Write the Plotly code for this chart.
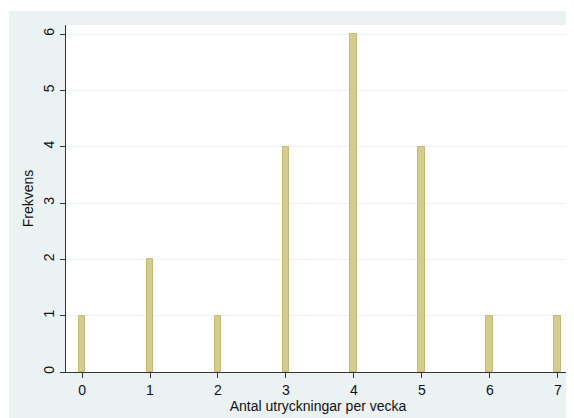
import plotly.graph_objects as go

# Data
categories = [0, 1, 2, 3, 4, 5, 6, 7]
frequencies = [1, 2, 1, 4, 6, 4, 1, 1]
x_title = "Antal utryckningar per vecka"
y_title = "Frekvens"
y_ticks = [0, 1, 2, 3, 4, 5, 6]

# page body has an 8px margin, so the figure sits at (8, 8)
W, H = 566, 410
L, R, T, B = 58, 4, 17, 46
pw = W - L - R
ph = H - T - B

def px_x(p):
    return (p - L) / pw

def px_y(p):
    return (H - B - p) / ph

BG = "#EAF2F3"

fig = go.Figure()
fig.add_trace(go.Bar(
    x=categories,
    y=frequencies,
    width=0.1,
    marker=dict(color="#D4CB8C", line=dict(color="#C4BA76", width=1)),
    showlegend=False,
    hoverinfo="x+y",
))

font = dict(family="Liberation Sans, Arial, sans-serif", size=14, color="#111111")

fig.update_layout(
    width=W, height=H,
    margin=dict(l=L, r=R, t=T, b=B),
    paper_bgcolor=BG,
    plot_bgcolor="white",
    font=font,
    bargap=0,
    shapes=[
        # thin white strips at top and left (outer frame offset)
        dict(type="rect", xref="paper", yref="paper",
             x0=px_x(-2), x1=px_x(W + 2), y0=px_y(3), y1=px_y(-2),
             fillcolor="white", line=dict(width=0), layer="below"),
        dict(type="rect", xref="paper", yref="paper",
             x0=px_x(-2), x1=px_x(1), y0=px_y(H + 2), y1=px_y(-2),
             fillcolor="white", line=dict(width=0), layer="below"),
    ],
)

fig.update_xaxes(
    range=[-0.236, 7.18],
    tickmode="array", tickvals=categories, ticktext=[str(c) for c in categories],
    ticks="outside", ticklen=5, tickwidth=1, tickcolor="#333333",
    showline=True, linecolor="#333333", linewidth=1.2,
    showgrid=False, zeroline=False,
    title=dict(text=x_title, standoff=2, font=font),
    tickfont=font,
)

fig.update_yaxes(
    range=[0, 6.16],
    tickmode="array", tickvals=y_ticks, ticktext=[str(v) for v in y_ticks],
    tickangle=-90,
    ticks="outside", ticklen=5, tickwidth=1, tickcolor="#333333",
    showline=True, linecolor="#333333", linewidth=1.2,
    showgrid=True, gridcolor=BG, gridwidth=1.2,
    zeroline=False,
    title=dict(text=y_title, standoff=4, font=font),
    tickfont=font,
)

fig.write_html("out.html")
